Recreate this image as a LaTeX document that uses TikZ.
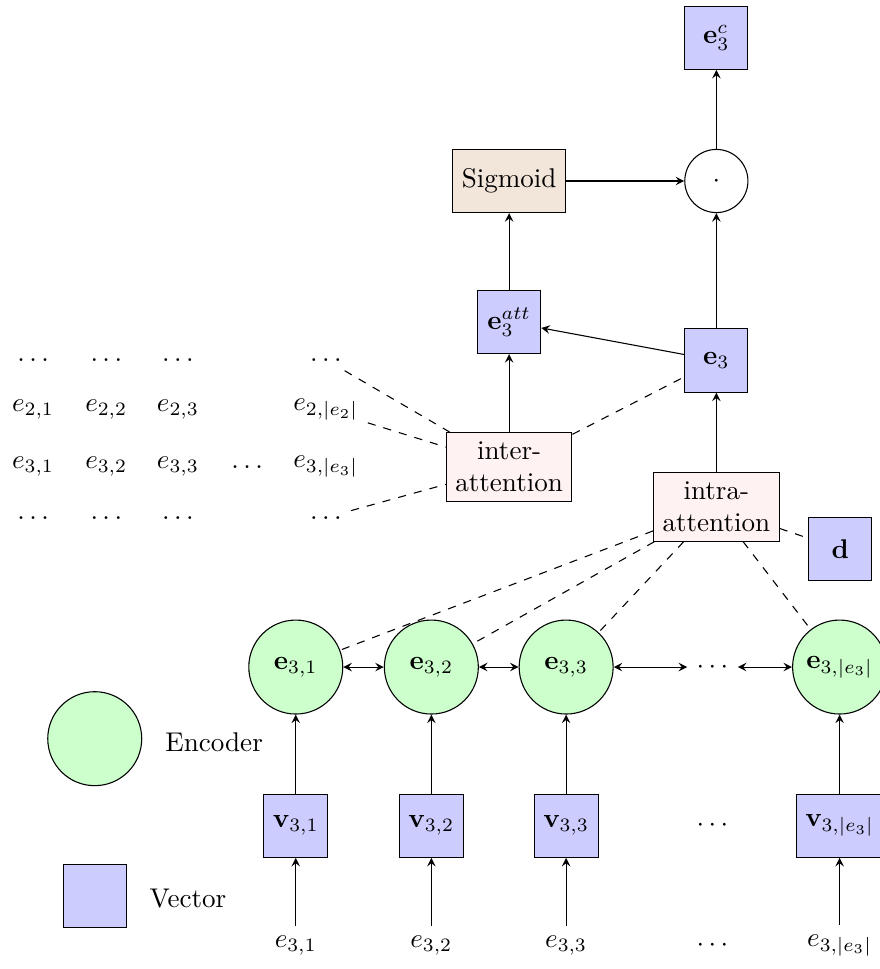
\documentclass[tikz,border=0pt]{standalone}
\begin{document}
\begin{tikzpicture}[>=stealth,
  vec/.style={draw,fill=blue!20,minimum size=0.82cm},
  enc/.style={draw,circle,fill=green!20,minimum size=1.22cm},
  att/.style={draw,fill=red!5,align=center},
  link/.style={dashed}]
\useasboundingbox (0,0) rectangle (11.42,12.58);
% other entities
\foreach \x/\j in {0.43/1,1.38/2,2.31/3} {
  \node (t\j) at (\x,7.91) {$\dots$};
  \node (a\j) at (\x,7.26) {$e_{2,\j}$};
  \node (b\j) at (\x,6.52) {$e_{3,\j}$};
  \node (u\j) at (\x,5.86) {$\dots$};
}
\node (b4) at (3.21,6.52) {$\dots$};
\node (t5) at (4.23,7.91) {$\dots$};
\node (a5) at (4.23,7.26) {$e_{2,|e_2|}$};
\node (b5) at (4.23,6.52) {$e_{3,|e_3|}$};
\node (u5) at (4.23,5.86) {$\dots$};
% attention part
\node[vec] (ec) at (9.30,12.09) {$\mathbf{e}_3^c$};
\node[draw,circle,minimum size=0.82cm] (prod) at (9.30,10.23) {$\cdot$};
\node[vec,fill=brown!20] (sig) at (6.61,10.23) {Sigmoid};
\node[vec] (eatt) at (6.61,8.40) {$\mathbf{e}_3^{att}$};
\node[vec] (e3) at (9.30,7.90) {$\mathbf{e}_3$};
\node[att] (inter) at (6.61,6.52) {inter-\\attention};
\node[att] (intra) at (9.30,6.00) {intra-\\attention};
\node[vec] (d) at (10.91,5.45) {$\mathbf{d}$};
\draw[->] (prod) -- (ec);
\draw[->] (sig) -- (prod);
\draw[->] (e3) -- (prod);
\draw[->] (eatt) -- (sig);
\draw[->] (e3) -- (eatt);
\draw[->] (inter) -- (eatt);
\draw[->] (intra) -- (e3);
\draw[link] (t5) -- (inter);
\draw[link] (a5) -- (inter);
\draw[link] (u5) -- (inter);
\draw[link] (inter) -- (e3);
% encoder
\foreach \x/\j in {3.84/1,5.60/2,7.35/3} {
  \node[enc] (enc\j) at (\x,3.92) {$\mathbf{e}_{3,\j}$};
  \node[vec] (v\j) at (\x,1.86) {$\mathbf{v}_{3,\j}$};
  \node (in\j) at (\x,0.31) {$e_{3,\j}$};
  \draw[->] (in\j) -- (v\j);
  \draw[->] (v\j) -- (enc\j);
  \draw[link] (intra) -- (enc\j);
}
\node (encd) at (9.25,3.92) {$\cdots$};
\node (vd) at (9.25,1.86) {$\cdots$};
\node (ind) at (9.25,0.31) {$\cdots$};
\node[enc] (encn) at (10.90,3.92) {$\mathbf{e}_{3,|e_3|}$};
\node[vec] (vn) at (10.90,1.86) {$\mathbf{v}_{3,|e_3|}$};
\node (inn) at (10.90,0.31) {$e_{3,|e_3|}$};
\draw[->] (inn) -- (vn);
\draw[->] (vn) -- (encn);
\draw[link] (intra) -- (encn);
\draw[link] (intra) -- (d);
\draw[<->] (enc1) -- (enc2);
\draw[<->] (enc2) -- (enc3);
\draw[<->] (enc3) -- (encd);
\draw[<->] (encd) -- (encn);
% legend
\node[enc] (lenc) at (1.23,2.99) {};
\node (lenct) at (2.78,2.95) {Encoder};
\node[vec] (lvec) at (1.23,0.95) {};
\node (lvect) at (2.44,0.92) {Vector};
\end{tikzpicture}
\end{document}
